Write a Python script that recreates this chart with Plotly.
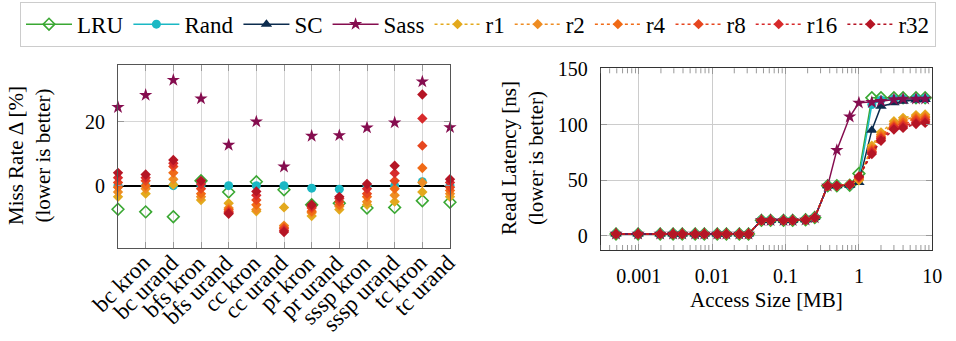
import plotly.graph_objects as go

# ---------------- data ----------------
categories = ["", "bc kron", "bc urand", "bfs kron", "bfs urand", "cc kron", "cc urand",
              "pr kron", "pr urand", "sssp kron", "sssp urand", "tc kron", "tc urand"]

miss_lru = [-7.4, -8.2, -9.7, 1.5, -2.0, 1.2, -1.3, -6.0, -5.5, -7.0, -6.8, -4.7, -5.2]
miss_rand = [0, 0, 0, 0, 0, 0, 0, -0.8, -1.1, 0, 0, 1.2, 0]
miss_sass = [24.5, 28.3, 33.0, 27.2, 12.7, 20.0, 5.9, 15.5, 15.7, 18.1, 19.7, 32.5, 18.2]
miss_r1 = [-3.5, -2.5, 0.3, -4.5, -5.5, -8.0, -6.8, -9.5, -7.5, -6.0, -5.0, -2.0, -3.5]
miss_r2 = [-2.0, -1.0, 2.0, -3.5, -7.0, -7.5, -12.5, -8.5, -6.5, -5.0, -3.0, 1.0, -2.5]
miss_r4 = [-0.5, 0.0, 4.0, -2.5, -7.5, -6.0, -13.0, -8.0, -6.0, -3.5, -1.0, 5.5, -1.5]
miss_r8 = [1.0, 1.5, 6.0, -1.0, -8.0, -4.5, -13.5, -7.0, -5.0, -2.5, 1.5, 12.5, -0.5]
miss_r16 = [2.5, 2.5, 7.0, 0.5, -8.5, -3.0, -14.0, -6.5, -4.0, -1.0, 3.9, 21.0, 1.0]
miss_r32 = [4.0, 3.5, 8.0, 1.5, -8.8, -1.8, -14.5, -6.0, -3.5, 0.5, 6.2, 28.5, 2.0]

size_kb = [0.5, 1, 2, 3, 4, 6, 8, 12, 16, 24, 32, 48, 64, 96, 128, 192, 256, 384, 512, 768,
           1024, 1536, 2048, 3072, 4096, 6144, 8192]
size_mb = [k / 1024 for k in size_kb]

lat_lru = [1.8, 1.8, 1.8, 1.8, 1.8, 1.8, 1.8, 1.8, 1.8, 1.8, 1.8, 14, 14, 14, 14, 14.5, 16.5,
           45, 45, 45.5, 56, 124, 124, 124, 124, 124, 124]
lat_rand = [1.8, 1.8, 1.8, 1.8, 1.8, 1.8, 1.8, 1.8, 1.8, 1.8, 1.8, 14, 14, 14, 14, 14.5, 16.5,
            45, 45, 45.5, 51, 118, 122, 123, 123, 123.5, 123.5]
lat_sc = [1.8, 1.8, 1.8, 1.8, 1.8, 1.8, 1.8, 1.8, 1.8, 1.8, 1.8, 14, 14, 14, 14, 14.5, 16.5,
          45, 45, 45.5, 48, 95, 116.5, 119.5, 121, 122, 122.5]
lat_sass = [1.8, 1.8, 1.8, 1.8, 1.8, 1.8, 1.8, 1.8, 1.8, 1.8, 1.8, 14, 14, 14, 14, 14.5, 16.5,
            45, 77, 107, 119.5, 120, 121, 122.5, 123, 123, 123]
lat_r1 = [1.8, 1.8, 1.8, 1.8, 1.8, 1.8, 1.8, 1.8, 1.8, 1.8, 1.8, 14, 14, 14, 14, 14.5, 16.5,
          45, 45, 46, 50, 81, 93, 103, 106, 108.5, 109]
lat_r2 = [1.8, 1.8, 1.8, 1.8, 1.8, 1.8, 1.8, 1.8, 1.8, 1.8, 1.8, 14, 14, 14, 14, 14.5, 16.5,
          45, 45, 46, 51, 79, 91, 101, 104, 107, 107.5]
lat_r4 = [1.8, 1.8, 1.8, 1.8, 1.8, 1.8, 1.8, 1.8, 1.8, 1.8, 1.8, 14, 14, 14, 14, 14.5, 16.5,
          45, 45, 46, 52, 77.5, 89.5, 99.5, 102, 105.5, 106]
lat_r8 = [1.8, 1.8, 1.8, 1.8, 1.8, 1.8, 1.8, 1.8, 1.8, 1.8, 1.8, 14, 14, 14, 14, 14.5, 16.5,
          45, 45, 46, 52.5, 76, 88, 98, 100, 104, 104.5]
lat_r16 = [1.8, 1.8, 1.8, 1.8, 1.8, 1.8, 1.8, 1.8, 1.8, 1.8, 1.8, 14, 14, 14, 14, 14.5, 16.5,
           45, 45, 46, 53, 75, 87, 97, 98.5, 102, 103]
lat_r32 = [1.8, 1.8, 1.8, 1.8, 1.8, 1.8, 1.8, 1.8, 1.8, 1.8, 1.8, 14, 14, 14, 14, 14.5, 16.5,
           45, 45, 46, 53.5, 73.5, 85.5, 95.5, 97, 100.5, 101.5]

x_ticks = [0.001, 0.01, 0.1, 1, 10]
x_ticktext = ["0.001", "0.01", "0.1", "1", "10"]
x_minor_mults = [2, 3, 4, 5, 6, 7, 8, 9]
x_minor_decades = [0.0001, 0.001, 0.01, 0.1, 1]
y_left_ticks = [0, 20]
y_right_ticks = [0, 50, 100, 150]

# ---------------- styles ----------------
FONT = "'Liberation Serif', 'Times New Roman', 'DejaVu Serif', serif"
C = {
    "LRU": "#3aa833", "Rand": "#1bb8c4", "SC": "#0c2c4e", "Sass": "#850d4f",
    "r1": "#e3a91d", "r2": "#ee8c22", "r4": "#f06a16", "r8": "#e6461f",
    "r16": "#d72a2b", "r32": "#b51525",
}
series = [
    ("LRU", miss_lru, lat_lru, dict(symbol="diamond-open", size=9, line=dict(width=1.6, color=C["LRU"])), "solid"),
    ("Rand", miss_rand, lat_rand, dict(symbol="circle", size=9), "solid"),
    ("SC", None, lat_sc, dict(symbol="triangle-up", size=10), "solid"),
    ("Sass", miss_sass, lat_sass, dict(symbol="star", size=10), "solid"),
    ("r1", miss_r1, lat_r1, dict(symbol="diamond", size=8), "dot"),
    ("r2", miss_r2, lat_r2, dict(symbol="diamond", size=8), "dot"),
    ("r4", miss_r4, lat_r4, dict(symbol="diamond", size=8), "dot"),
    ("r8", miss_r8, lat_r8, dict(symbol="diamond", size=8), "dot"),
    ("r16", miss_r16, lat_r16, dict(symbol="diamond", size=8), "dot"),
    ("r32", miss_r32, lat_r32, dict(symbol="diamond", size=8), "dot"),
]

fig = go.Figure()
xs_left = list(range(len(categories)))
for name, miss, lat, mk, dash in series:
    mk = dict(mk)
    mk.setdefault("color", C[name])
    if miss is not None:
        fig.add_trace(go.Scatter(x=xs_left, y=miss, mode="markers", marker=mk, name=name,
                                 showlegend=False, xaxis="x", yaxis="y", cliponaxis=False))
    fig.add_trace(go.Scatter(x=size_mb, y=lat, mode="lines+markers", marker=mk, name=name,
                             line=dict(color=C[name], width=1.5, dash=dash),
                             xaxis="x2", yaxis="y2", cliponaxis=False))

W, H = 956, 341
L_TOP, L_BOT = 65, 247.7
R_TOP, R_BOT = 68.3, 250

# minor log ticks (pgfplots style) on top and bottom of the right plot
shapes = []
tl = 5 / (R_BOT - R_TOP)
for d in x_minor_decades:
    for m in x_minor_mults:
        v = m * d
        if 0.0003 < v < 9.9:
            for y0, y1 in [(0, tl), (1 - tl, 1)]:
                shapes.append(dict(type="line", xref="x2", yref="y2 domain", x0=v, x1=v, y0=y0, y1=y1,
                                   line=dict(color="#999", width=1)))

annotations = [
    dict(text="Miss Rate Δ [%]<br>(lower is better)", x=29 / W, y=(H - 156) / H, xref="paper",
         yref="paper", xanchor="center", yanchor="middle", textangle=-90, showarrow=False,
         font=dict(family=FONT, size=21)),
    dict(text="Read Latency [ns]<br>(lower is better)", x=522 / W, y=(H - 158) / H, xref="paper",
         yref="paper", xanchor="center", yanchor="middle", textangle=-90, showarrow=False,
         font=dict(family=FONT, size=21)),
    dict(text="Access Size [MB]", x=766 / W, y=(H - 300) / H, xref="paper", yref="paper",
         xanchor="center", yanchor="middle", showarrow=False, font=dict(family=FONT, size=21)),
]
# rotated category labels (pgfplots places them slightly right of the tick)
for i, lab in enumerate(categories):
    if lab:
        annotations.append(dict(text=lab, x=i, y=0, xref="x", yref="y domain", xanchor="right",
                                yanchor="top", textangle=-45, showarrow=False, xshift=11, yshift=-1,
                                borderpad=0, font=dict(family=FONT, size=23)))

tickfont = dict(family=FONT, size=20, color="black")
fig.update_layout(
    width=W, height=H, margin=dict(l=0, r=0, t=0, b=0, autoexpand=False),
    paper_bgcolor="white", plot_bgcolor="white",
    font=dict(family=FONT, size=20, color="black"),
    legend=dict(orientation="h", x=0.5, xanchor="center", y=0.995, yanchor="top",
                bordercolor="#cccccc", borderwidth=1, font=dict(family=FONT, size=23),
                itemwidth=46, tracegroupgap=0, bgcolor="white"),
    xaxis=dict(domain=[118 / W, 450 / W], range=[0, 12], tickvals=xs_left, showticklabels=False,
               showgrid=True, gridcolor="#d6d6d6", gridwidth=1,
               showline=True, linecolor="#555", linewidth=1, mirror="ticks", automargin=False,
               ticks="inside", ticklen=6, tickcolor="#999", zeroline=False),
    yaxis=dict(domain=[(H - L_BOT) / H, (H - L_TOP) / H], range=[-19.4, 37.7], tickvals=y_left_ticks,
               tickfont=tickfont, showgrid=True, gridcolor="#d6d6d6", showline=True, automargin=False,
               linecolor="#555", linewidth=1, mirror="ticks", ticks="inside", ticklen=6,
               tickcolor="#999", zeroline=True, zerolinecolor="black", zerolinewidth=2,
               ticklabelstandoff=8),
    xaxis2=dict(domain=[600.7 / W, 932.3 / W], type="log", range=[-3.52, 1.0005], tickvals=x_ticks,
                ticktext=x_ticktext, tickfont=tickfont, anchor="y2", showgrid=True, automargin=False,
                gridcolor="#cccccc", showline=True, linecolor="#333", linewidth=1, mirror="ticks",
                ticks="inside", ticklen=6, tickcolor="#999", zeroline=False,
                ticklabelstandoff=8),
    yaxis2=dict(domain=[(H - R_BOT) / H, (H - R_TOP) / H], range=[-12.6, 150.5], tickvals=y_right_ticks,
                tickfont=tickfont, anchor="x2", showgrid=True, gridcolor="#cccccc", showline=True,
                linecolor="#333", linewidth=1, mirror="ticks", ticks="inside", ticklen=6, automargin=False,
                tickcolor="#999", zeroline=False, ticklabelstandoff=8),
    shapes=shapes,
    annotations=annotations,
)

fig.write_html("out.html", config={"displayModeBar": False},
               post_script="document.body.style.margin='0px';document.body.style.overflow='hidden';")
